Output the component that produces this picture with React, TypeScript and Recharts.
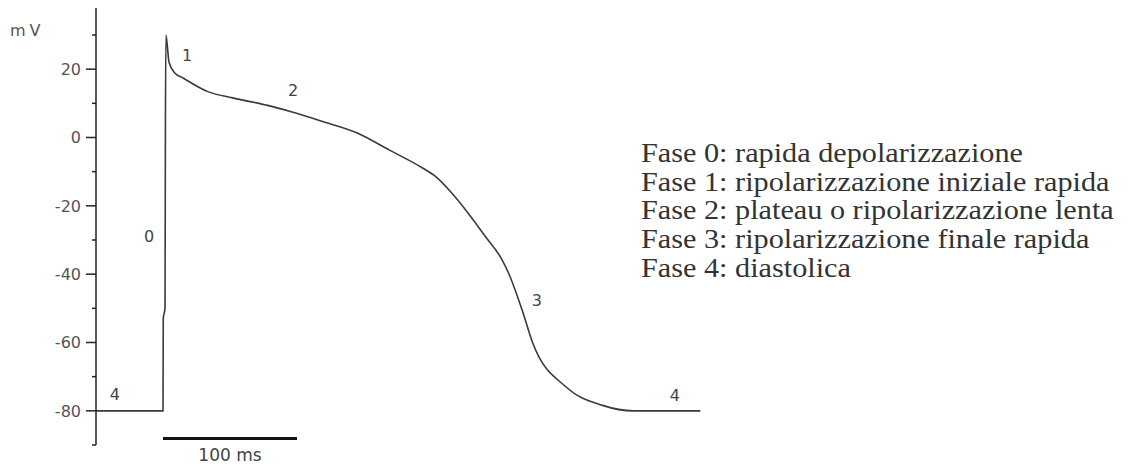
import { LineChart, Line, XAxis, YAxis, ReferenceDot, ReferenceLine } from 'recharts';

// action potential trace, time in ms from the upstroke, membrane potential in mV
const timeMs = [-50, 0, 0.2, 1.5, 1.8, 2.2, 4.5, 9, 15, 33, 52, 78, 95, 119, 145, 169, 194, 204, 214, 229, 241, 252, 258, 268, 276, 301, 328, 351, 401];
const voltageMv = [-80, -80, -53, -50, 2, 30, 22, 18.8, 17.4, 13.5, 11.6, 9.4, 7.6, 4.7, 1.3, -3.7, -9, -11.6, -15.6, -22.8, -29.2, -35.1, -39.8, -50.5, -60.2, -73.1, -78.4, -80, -80];

const phaseNames = ['4', '0', '1', '2', '3', '4'];
const phaseTimes = [-36, -10.4, 17.9, 97, 279, 382];
const phaseVolts = [-75, -29, 24, 13.8, -47.7, -75.5];

const yTicks = [-90, -80, -70, -60, -50, -40, -30, -20, -10, 0, 10, 20, 30];
const yUnit = 'mV';

const scaleBarMs = [0, 100];
const scaleBarLevel = -88.1;
const scaleBarText = '100 ms';

const legendLines = [
    'Fase 0: rapida depolarizzazione',
    'Fase 1: ripolarizzazione iniziale rapida',
    'Fase 2: plateau o ripolarizzazione lenta',
    'Fase 3: ripolarizzazione finale rapida',
    'Fase 4: diastolica',
];

const data = timeMs.map((t, i) => ({ t, v: voltageMv[i] }));

const SANS = 'DejaVu Sans, sans-serif';

function AxisTick({ x, y, payload }: { x?: number; y?: number; payload?: { value: number } }) {
    const ax = x ?? 0;
    const ay = y ?? 0;
    const value = payload?.value ?? 0;
    const major = value % 20 === 0;
    return (
        <g>
            <line x1={ax - (major ? 10 : 4)} y1={ay} x2={ax} y2={ay} stroke="#222" strokeWidth={1.5} />
            {major && (
                <text x={ax - 15} y={ay} dy="0.36em" textAnchor="end" fontFamily={SANS} fontSize={16} fill="#555">
                    {String(value)}
                </text>
            )}
        </g>
    );
}

function UnitLabel({ viewBox }: { viewBox?: { x?: number; y?: number } }) {
    const x = viewBox?.x ?? 0;
    const y = viewBox?.y ?? 0;
    return (
        <text x={x + 10} y={y + 28} fontFamily={SANS} fontSize={16} letterSpacing={4} fill="#555">
            {yUnit}
        </text>
    );
}

function PhaseLabel({ viewBox, value }: { viewBox?: { x?: number; y?: number }; value?: string }) {
    return (
        <text x={viewBox?.x ?? 0} y={viewBox?.y ?? 0} dy="0.36em" textAnchor="middle" fontFamily={SANS} fontSize={16} fill="#444">
            {value}
        </text>
    );
}

function BarLabel({ viewBox }: { viewBox?: { x?: number; y?: number; width?: number } }) {
    const x = (viewBox?.x ?? 0) + (viewBox?.width ?? 0) / 2;
    return (
        <text x={x} y={(viewBox?.y ?? 0) + 22} textAnchor="middle" fontFamily={SANS} fontSize={17} fill="#444">
            {scaleBarText}
        </text>
    );
}

export default function App() {
    return (
        <div style={{ position: 'absolute', left: 0, top: 0, width: 1141, height: 466, background: '#fff' }}>
            <LineChart width={1141} height={466} data={data} margin={{ top: 8, right: 40, bottom: 21, left: 0 }}>
                <XAxis dataKey="t" type="number" domain={[-50, 700]} hide />
                <YAxis
                    type="number"
                    domain={[-90, 37.9]}
                    ticks={yTicks}
                    interval={0}
                    width={96}
                    tickSize={0}
                    tickMargin={0}
                    tickLine={false}
                    axisLine={{ stroke: '#222', strokeWidth: 1.5 }}
                    tick={<AxisTick />}
                    label={<UnitLabel />}
                />
                <Line type="monotoneX" dataKey="v" stroke="#3a3a3a" strokeWidth={1.6} dot={false} isAnimationActive={false} />
                {phaseNames.map((name, i) => (
                    <ReferenceDot
                        key={`phase-${i}`}
                        x={phaseTimes[i]}
                        y={phaseVolts[i]}
                        r={0}
                        fill="none"
                        stroke="none"
                        label={<PhaseLabel value={name} />}
                    />
                ))}
                <ReferenceLine
                    segment={[{ x: scaleBarMs[0], y: scaleBarLevel }, { x: scaleBarMs[1], y: scaleBarLevel }]}
                    stroke="#111"
                    strokeWidth={3}
                    label={<BarLabel />}
                />
            </LineChart>
            <div
                style={{
                    position: 'absolute',
                    left: 641,
                    top: 139,
                    fontFamily: '"Liberation Serif", "Times New Roman", serif',
                    fontSize: 27,
                    lineHeight: '28.7px',
                    color: '#333',
                    whiteSpace: 'nowrap',
                    transform: 'scaleX(1.12)',
                    transformOrigin: 'left top',
                }}
            >
                {legendLines.map((line, i) => (
                    <div key={i}>{line}</div>
                ))}
            </div>
        </div>
    );
}
